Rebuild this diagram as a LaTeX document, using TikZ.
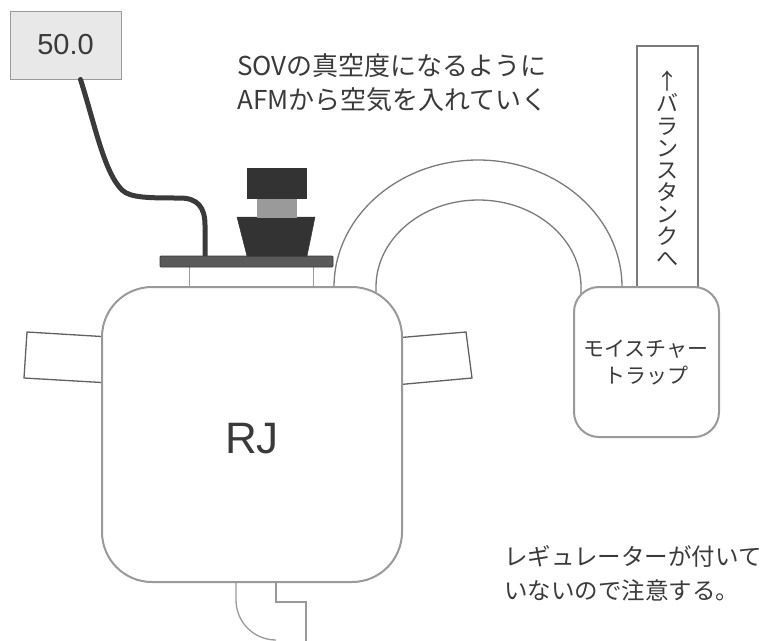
\documentclass[tikz,border=0pt]{standalone}
\usepackage{fontspec}
\setmainfont{Liberation Sans}
\newfontfamily\jpfont{Noto Sans CJK JP}
\definecolor{ink}{HTML}{3A3A3A}
\definecolor{edge}{HTML}{7A7A7A}
\definecolor{softedge}{HTML}{999999}
\definecolor{dial}{HTML}{E8E8E8}
\definecolor{dark}{HTML}{333333}
\definecolor{plate}{HTML}{5A5A5A}
\definecolor{stem}{HTML}{9A9A9A}
\begin{document}
\begin{tikzpicture}[x=1pt,y=-1pt,
  outline/.style={draw=edge,line width=1.3pt},
  vessel/.style={draw=softedge,line width=2pt,fill=white},
  jtext/.style={text=ink,inner sep=0pt},
  solid part/.style={fill=dark,draw=dark,line width=0.5pt}]
\useasboundingbox (0,0) rectangle (776,640);

% pressure readout and its cable
\node[draw=stem,fill=dial,line width=1pt,minimum width=111pt,minimum height=68pt,
      inner sep=0pt,font=\fontsize{29}{29}\selectfont,text=ink] (gauge) at (65.5,45) {50.0};
\coordinate (plug) at (205,256);
\draw[line width=5pt,draw=ink,line cap=round]
  ([xshift=15pt]gauge.south) .. controls (95,125) and (104,172) .. (122,190)
  .. controls (130,198) and (150,198) .. (180,198)
  .. controls (198,198) and (205,208) .. (205,225) -- (plug);

% bent pipe under the vessel (y axis points down, so angles run clockwise)
\draw[outline,draw=softedge] (236,575) -- (236,600) arc[start angle=180,end angle=90,radius=40];
\draw[outline,draw=softedge] (276,575) -- (276,602) -- (306,602) -- (306,645);

% side handles
\draw[outline,draw=ink!80,fill=white] (110,337) -- (27,332) -- (24,378) -- (110,383);
\draw[outline,draw=ink!80,fill=white] (395,338) -- (466,332) -- (472,378) -- (395,385);

% arched hose to the moisture trap
\draw[outline] (334,300) -- (334,287) arc[start angle=180,end angle=360,x radius=144,y radius=127] -- (622,300);
\draw[outline] (376,300) -- (376,287) arc[start angle=180,end angle=360,x radius=102.5,y radius=87] -- (581,300);

% pipe up to the balance tank
\draw[outline,fill=white] (637,295) -- (637,46) -- (698,46) -- (698,295);
\node[jtext,align=center,font=\jpfont\fontsize{22}{22.1}\selectfont] (tanklabel) at (667,169)
  {↑\\バ\\ラ\\ン\\ス\\タ\\ン\\ク\\へ};

% main vessel
\draw[vessel,rounded corners=50pt] (102,287) rectangle (402,582);
\node[font=\fontsize{44}{44}\selectfont,text=ink] (rj) at (252,439) {RJ};

% moisture trap
\draw[vessel,rounded corners=25pt] (574,287) rectangle (719,437);
\node[jtext,align=center,font=\jpfont\fontsize{21}{27}\selectfont] (trap) at (646,363)
  {モイスチャー\\トラップ};

% lid plate with its valve knob
\draw[line width=1pt,draw=stem] (189,267) -- (189,287) (313,267) -- (313,287);
\draw[fill=plate,draw=ink,line width=0.8pt,rounded corners=1pt] (160,256) rectangle (333,267);
\draw[solid part] (237,217) -- (315,217) -- (307,256) -- (247,256) -- cycle;
\draw[fill=stem,draw=stem] (257,198) rectangle (296,217);
\draw[solid part] (247,168) rectangle (306,198);

% notes
\node[jtext,align=left,font=\jpfont\fontsize{26}{34}\selectfont,anchor=west] (note1) at (237,83)
  {SOVの真空度になるように\\AFMから空気を入れていく};
\node[jtext,align=left,font=\jpfont\fontsize{23.5}{34}\selectfont,anchor=west] (note2) at (504,573)
  {レギュレーターが付いて\\いないので注意する。};
\end{tikzpicture}
\end{document}
